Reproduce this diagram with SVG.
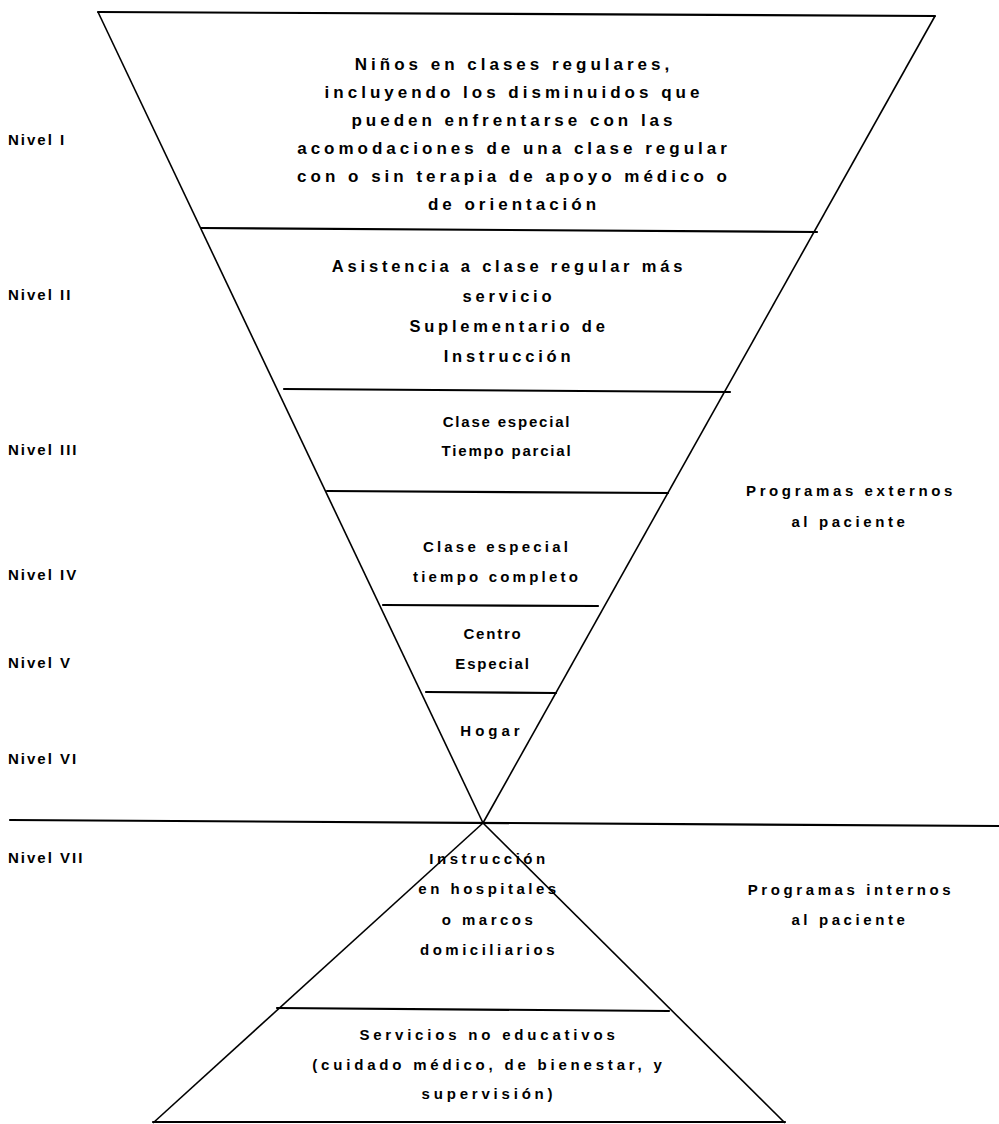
<svg xmlns="http://www.w3.org/2000/svg" width="999" height="1124" viewBox="0 0 999 1124">
<style>
.ln{stroke:#000;stroke-width:2.2;fill:none;stroke-linecap:round}
.sd{stroke:#000;stroke-width:1.6;fill:none}
text{font-family:"Liberation Sans",Arial,sans-serif;font-size:15px;font-weight:bold;letter-spacing:2.5px;fill:#000}
.c{text-anchor:middle}
.lv{letter-spacing:2px}
.b1{font-size:17px;letter-spacing:4px}
.b2{font-size:16.5px;letter-spacing:3.8px}
.b3{letter-spacing:1.8px}
.b4{letter-spacing:3.2px}
.b5{letter-spacing:1.8px}
.b6{letter-spacing:4px}
.side{letter-spacing:3.6px}
.b7{letter-spacing:3.5px}
.b8{letter-spacing:3.8px}
</style>
<rect width="999" height="1124" fill="#fff"/>
<g id="connectors">
<line class="ln" x1="98" y1="12" x2="935" y2="16"/>
<line class="sd" x1="98" y1="12" x2="483" y2="823"/>
<line class="sd" x1="935" y1="16" x2="483" y2="823"/>
<line class="ln" x1="201" y1="228" x2="817" y2="232"/>
<line class="ln" x1="284" y1="389" x2="730" y2="392"/>
<line class="ln" x1="327" y1="491" x2="668" y2="493"/>
<line class="ln" x1="383" y1="605" x2="598" y2="606"/>
<line class="ln" x1="426" y1="692" x2="556" y2="693"/>
<line class="ln" x1="10" y1="820" x2="999" y2="826"/>
<line class="sd" x1="483" y1="823" x2="153" y2="1123"/>
<line class="sd" x1="483" y1="823" x2="785" y2="1123"/>
<line class="ln" x1="277" y1="1008" x2="669" y2="1011"/>
<line class="ln" x1="153" y1="1122" x2="785" y2="1122"/>
</g>
<g id="labels">
<text class="lv" x="8" y="145">Nivel I</text>
<text class="lv" x="8" y="300">Nivel II</text>
<text class="lv" x="8" y="455">Nivel III</text>
<text class="lv" x="8" y="580">Nivel IV</text>
<text class="lv" x="8" y="668">Nivel V</text>
<text class="lv" x="8" y="764">Nivel VI</text>
<text class="lv" x="8" y="863">Nivel VII</text>
</g>
<g id="n1">
<text class="c b1" x="514" y="70">Niños en clases regulares,</text>
<text class="c b1" x="514" y="98">incluyendo los disminuidos que</text>
<text class="c b1" x="514" y="126">pueden enfrentarse con las</text>
<text class="c b1" x="514" y="154">acomodaciones de una clase regular</text>
<text class="c b1" x="514" y="182">con o sin terapia de apoyo médico o</text>
<text class="c b1" x="514" y="210">de orientación</text>
</g>
<g id="n2">
<text class="c b2" x="509" y="272">Asistencia a clase regular más</text>
<text class="c b2" x="509" y="302">servicio</text>
<text class="c b2" x="509" y="332">Suplementario de</text>
<text class="c b2" x="509" y="362">Instrucción</text>
</g>
<g id="n3">
<text class="c b3" x="507" y="427">Clase especial</text>
<text class="c b3" x="507" y="456">Tiempo parcial</text>
</g>
<g id="n4">
<text class="c b4" x="497" y="552">Clase especial</text>
<text class="c b4" x="497" y="582">tiempo completo</text>
</g>
<g id="n5">
<text class="c b5" x="493" y="639">Centro</text>
<text class="c b5" x="493" y="669">Especial</text>
</g>
<g id="n6">
<text class="c b6" x="492" y="736">Hogar</text>
</g>
<g id="ext">
<text class="c side" x="851" y="496">Programas externos</text>
<text class="c side" x="850" y="527">al paciente</text>
</g>
<g id="n7">
<text class="c b7" x="489" y="864">Instrucción</text>
<text class="c b7" x="489" y="894">en hospitales</text>
<text class="c b7" x="489" y="925">o marcos</text>
<text class="c b7" x="489" y="955">domiciliarios</text>
</g>
<g id="int">
<text class="c side" x="851" y="895">Programas internos</text>
<text class="c side" x="850" y="925">al paciente</text>
</g>
<g id="n8">
<text class="c b8" x="489" y="1040">Servicios no educativos</text>
<text class="c b8" x="489" y="1070">(cuidado médico, de bienestar, y</text>
<text class="c b8" x="489" y="1099">supervisión)</text>
</g>
</svg>
